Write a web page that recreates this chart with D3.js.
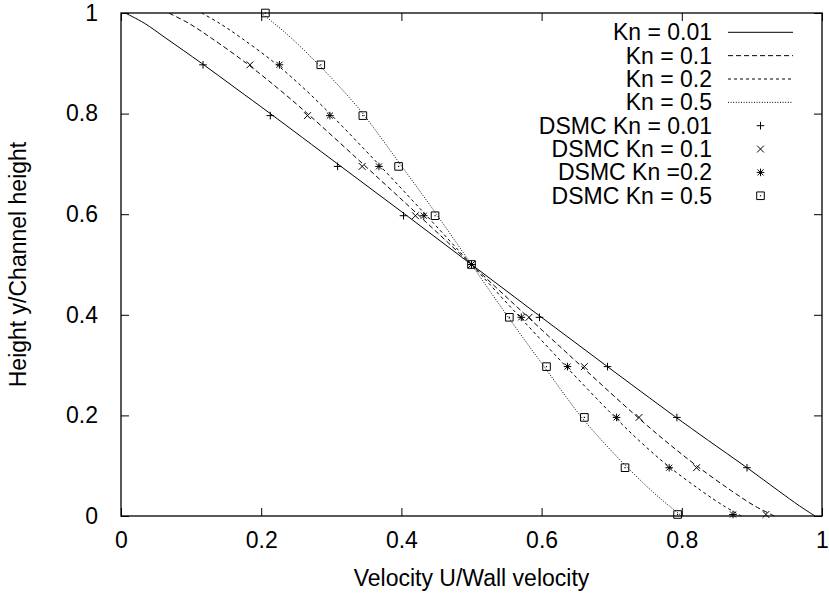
<!DOCTYPE html>
<html>
<head>
<meta charset="utf-8">
<script src="https://cdn.jsdelivr.net/npm/d3@7/dist/d3.min.js"></script>
<style>
  html, body { margin: 0; padding: 0; background: #fff; }
  svg { display: block; }
  text { font-family: "Liberation Sans", Arial, Helvetica, sans-serif; fill: #000; }
</style>
</head>
<body>
<svg id="chart" width="829" height="594"></svg>
<script>
// Couette flow velocity profiles: analytical curves and DSMC samples.
const profileY = [0, 0.02, 0.05, 0.1, 0.15, 0.2, 0.3, 0.4, 0.5, 0.6, 0.7, 0.8, 0.85, 0.9, 0.95, 0.98, 1];
const uKn001 = [0.990, 0.968, 0.938, 0.889, 0.838, 0.788, 0.691, 0.595, 0.5, 0.405, 0.309, 0.213, 0.164, 0.115, 0.064, 0.033, 0.006];
const uKn01  = [0.932, 0.904, 0.871, 0.821, 0.776, 0.734, 0.655, 0.577, 0.5, 0.423, 0.345, 0.266, 0.224, 0.179, 0.129, 0.096, 0.068];
const uKn02  = [0.885, 0.860, 0.828, 0.780, 0.739, 0.702, 0.633, 0.566, 0.5, 0.434, 0.367, 0.298, 0.261, 0.220, 0.172, 0.140, 0.115];
const uKn05  = [0.800, 0.782, 0.757, 0.720, 0.686, 0.655, 0.602, 0.550, 0.5, 0.450, 0.398, 0.345, 0.314, 0.280, 0.243, 0.218, 0.200];

// DSMC samples
const dsmcY001 = [0.096, 0.196, 0.297, 0.395, 0.5, 0.597, 0.695, 0.796, 0.897];
const dsmcU001 = [0.893, 0.793, 0.694, 0.597, 0.5, 0.403, 0.309, 0.213, 0.117];
const dsmcY01  = [0.003, 0.096, 0.196, 0.297, 0.395, 0.5, 0.597, 0.695, 0.796, 0.897];
const dsmcU01  = [0.920, 0.821, 0.739, 0.661, 0.582, 0.5, 0.420, 0.344, 0.266, 0.184];
const dsmcY02  = [0.003, 0.096, 0.196, 0.297, 0.395, 0.5, 0.597, 0.695, 0.796, 0.897];
const dsmcU02  = [0.873, 0.782, 0.707, 0.637, 0.571, 0.5, 0.432, 0.368, 0.298, 0.226];
const dsmcY05  = [0.003, 0.096, 0.196, 0.297, 0.395, 0.5, 0.597, 0.695, 0.796, 0.897, 1.0];
const dsmcU05  = [0.794, 0.719, 0.661, 0.607, 0.554, 0.5, 0.448, 0.396, 0.345, 0.285, 0.206];

const xTicks = [0, 0.2, 0.4, 0.6, 0.8, 1];
const yTicks = [0, 0.2, 0.4, 0.6, 0.8, 1];
const lineLabels = ["Kn = 0.01", "Kn = 0.1", "Kn = 0.2", "Kn = 0.5"];
const dsmcLabels = ["DSMC Kn = 0.01", "DSMC Kn = 0.1", "DSMC Kn =0.2", "DSMC Kn = 0.5"];
const xTitle = "Velocity U/Wall velocity";
const yTitle = "Height y/Channel height";

const FONT = 23;
const svg = d3.select("#chart");
const plot = { left: 121, right: 822, top: 13, bottom: 516 };

const x = d3.scaleLinear().domain([0, 1]).range([plot.left, plot.right]);
const y = d3.scaleLinear().domain([0, 1]).range([plot.bottom, plot.top]);
const fmt = d => (d === 0 || d === 1) ? String(d) : d.toFixed(1);

// Axes: ticks point inward, mirrored on top and right
const TICK = 8;
const gx = svg.append("g").attr("transform", `translate(0,${plot.bottom})`)
  .call(d3.axisBottom(x).tickValues(xTicks).tickFormat(fmt).tickSizeInner(-TICK).tickSizeOuter(0).tickPadding(16));
const gy = svg.append("g").attr("transform", `translate(${plot.left},0)`)
  .call(d3.axisLeft(y).tickValues(yTicks).tickFormat(fmt).tickSizeInner(-TICK).tickSizeOuter(0).tickPadding(23));
const gt = svg.append("g").attr("transform", `translate(0,${plot.top})`)
  .call(d3.axisTop(x).tickValues(xTicks).tickFormat("").tickSizeInner(-TICK).tickSizeOuter(0));
const gr = svg.append("g").attr("transform", `translate(${plot.right},0)`)
  .call(d3.axisRight(y).tickValues(yTicks).tickFormat("").tickSizeInner(-TICK).tickSizeOuter(0));

[gx, gy, gt, gr].forEach(g => {
  g.select(".domain").remove();
  g.selectAll(".tick line").attr("stroke", "#000").attr("stroke-width", 1);
  g.selectAll("text").attr("font-size", FONT).attr("font-family", null).attr("fill", "#000");
});
gx.selectAll("text").attr("dy", "0.71em");

// Plot frame
svg.append("rect")
  .attr("x", plot.left).attr("y", plot.top)
  .attr("width", plot.right - plot.left).attr("height", plot.bottom - plot.top)
  .attr("fill", "none").attr("stroke", "#000").attr("stroke-width", 1.3);

// Axis titles
svg.append("text").attr("x", (plot.left + plot.right) / 2).attr("y", 586)
  .attr("text-anchor", "middle").attr("font-size", FONT).text(xTitle);
svg.append("text").attr("transform", `translate(26,${(plot.top + plot.bottom) / 2}) rotate(-90)`)
  .attr("text-anchor", "middle").attr("font-size", FONT).text(yTitle);

// Analytical curves
const curves = [
  { u: uKn001, dash: null },
  { u: uKn01, dash: "5,3" },
  { u: uKn02, dash: "3,3" },
  { u: uKn05, dash: "1,1.6" }
];
const line = d3.line().x(d => x(d[0])).y(d => y(d[1])).curve(d3.curveCatmullRom);
const curveG = svg.append("g").attr("fill", "none").attr("stroke", "#000").attr("stroke-width", 1);
curves.forEach(c => {
  curveG.append("path")
    .attr("d", line(c.u.map((u, i) => [u, profileY[i]])))
    .attr("stroke-dasharray", c.dash);
});

// Marker shapes
const S = 3.8;
const markerPaths = {
  plus: `M${-S},0H${S}M0,${-S}V${S}`,
  cross: `M${-S * 0.9},${-S * 0.9}L${S * 0.9},${S * 0.9}M${-S * 0.9},${S * 0.9}L${S * 0.9},${-S * 0.9}`,
  star: `M${-S},0H${S}M0,${-S}V${S}M${-S * 0.8},${-S * 0.8}L${S * 0.8},${S * 0.8}M${-S * 0.8},${S * 0.8}L${S * 0.8},${-S * 0.8}`,
  box: `M${-S},${-S}H${S}V${S}H${-S}Z`
};
function drawMarker(g, type, cx, cy) {
  const m = g.append("g").attr("transform", `translate(${cx},${cy})`);
  m.append("path").attr("d", markerPaths[type]).attr("fill", "none").attr("stroke", "#000").attr("stroke-width", 1);
  if (type === "box") m.append("rect").attr("x", -0.6).attr("y", -0.6).attr("width", 1.2).attr("height", 1.2).attr("fill", "#000");
}
const dsmc = [
  { type: "plus", ys: dsmcY001, us: dsmcU001 },
  { type: "cross", ys: dsmcY01, us: dsmcU01 },
  { type: "star", ys: dsmcY02, us: dsmcU02 },
  { type: "box", ys: dsmcY05, us: dsmcU05 }
];
const markG = svg.append("g");
dsmc.forEach(s => s.us.forEach((u, i) => drawMarker(markG, s.type, x(u), y(s.ys[i]))));

// Legend
const legend = svg.append("g");
const legX = 712, sampleX0 = 728, sampleX1 = 793, row0 = 32.3, rowH = 23.35;
lineLabels.forEach((lab, i) => {
  const ry = row0 + i * rowH;
  legend.append("text").attr("x", legX).attr("y", ry).attr("dy", "0.35em")
    .attr("text-anchor", "end").attr("font-size", FONT).text(lab);
  legend.append("line").attr("x1", sampleX0).attr("x2", sampleX1).attr("y1", ry).attr("y2", ry)
    .attr("stroke", "#000").attr("stroke-width", 1).attr("stroke-dasharray", curves[i].dash);
});
dsmcLabels.forEach((lab, i) => {
  const ry = row0 + (i + 4) * rowH;
  legend.append("text").attr("x", legX).attr("y", ry).attr("dy", "0.35em")
    .attr("text-anchor", "end").attr("font-size", FONT).text(lab);
  drawMarker(legend, dsmc[i].type, (sampleX0 + sampleX1) / 2, ry);
});
</script>
</body>
</html>
